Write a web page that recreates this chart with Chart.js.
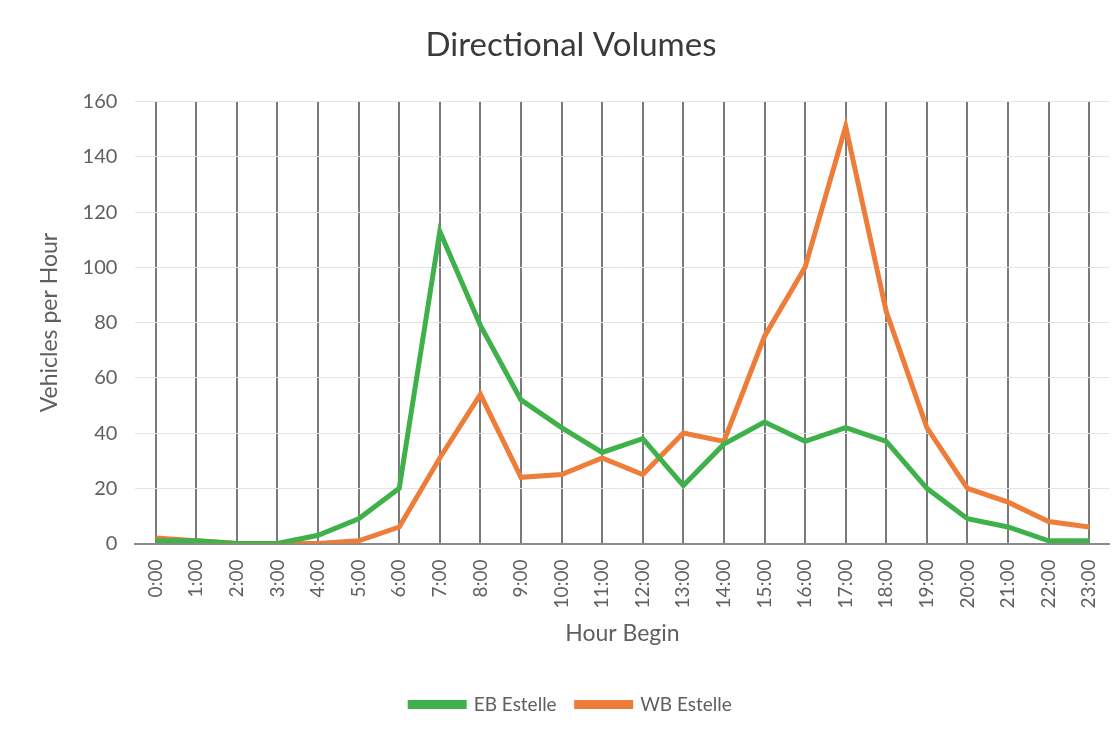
<!DOCTYPE html>
<html>
<head>
<meta charset="utf-8">
<script src="https://cdn.jsdelivr.net/npm/chart.js@4.4.1/dist/chart.umd.min.js"></script>
<style>
  html, body { margin: 0; padding: 0; background: #fff; overflow: hidden; }
  #wrap { width: 1120px; height: 738px; overflow: hidden; }
</style>
</head>
<body>
<div id="wrap"><canvas id="volChart" width="1128" height="738"></canvas></div>
<script>
const hours = [
    '0:00', '1:00', '2:00', '3:00', '4:00', '5:00', '6:00', '7:00',
    '8:00', '9:00', '10:00', '11:00', '12:00', '13:00', '14:00', '15:00',
    '16:00', '17:00', '18:00', '19:00', '20:00', '21:00', '22:00', '23:00'
];
const ebEstelle = [1, 1, 0, 0, 3, 9, 20, 113, 79, 52, 42, 33, 38, 21, 36, 44, 37, 42, 37, 20, 9, 6, 1, 1];
const wbEstelle = [2, 1, 0, 0, 0, 1, 6, 31, 54, 24, 25, 31, 25, 40, 37, 75, 100, 151, 84, 42, 20, 15, 8, 6];
const yTicks = [0, 20, 40, 60, 80, 100, 120, 140, 160];

const green = '#3fb14b';
const orange = '#ee7d3a';
const txt = '#5f5f5f';

const ctx = document.getElementById('volChart').getContext('2d');
new Chart(ctx, {
    type: 'line',
    data: {
        labels: hours,
        datasets: [
            {
                label: 'EB Estelle',
                data: ebEstelle,
                borderColor: green,
                backgroundColor: green,
                borderWidth: 5,
                pointRadius: 0,
                tension: 0
            },
            {
                label: 'WB Estelle',
                data: wbEstelle,
                borderColor: orange,
                backgroundColor: orange,
                borderWidth: 5,
                pointRadius: 0,
                tension: 0
            }
        ]
    },
    options: {
        responsive: false,
        animation: false,
        layout: {
            padding: { left: 14, right: 0, top: 10, bottom: 14 }
        },
        plugins: {
            title: {
                display: true,
                text: 'Directional Volumes',
                color: '#3a3a3a',
                font: { family: 'Lato', size: 33, weight: 'normal' },
                padding: { top: 16, bottom: 36 }
            },
            legend: {
                position: 'bottom',
                labels: {
                    color: txt,
                    font: { family: 'Lato', size: 19 },
                    boxWidth: 54,
                    boxHeight: 4,
                    padding: 20
                }
            },
            tooltip: { enabled: false }
        },
        scales: {
            x: {
                offset: true,
                grid: {
                    offset: false,
                    color: '#7a7a7a',
                    lineWidth: 2,
                    drawTicks: false
                },
                border: { color: '#8a8a8a', width: 2 },
                ticks: {
                    color: txt,
                    font: { family: 'Lato', size: 19 },
                    minRotation: 90,
                    maxRotation: 90,
                    padding: 16
                },
                title: {
                    display: true,
                    text: 'Hour Begin',
                    color: txt,
                    font: { family: 'Lato', size: 23 },
                    padding: { top: -5, bottom: 28 }
                }
            },
            y: {
                min: 0,
                max: 160,
                afterBuildTicks: (axis) => {
                    axis.ticks = yTicks.map(v => ({ value: v }));
                },
                grid: {
                    color: '#e4e4e4',
                    lineWidth: 1,
                    drawTicks: false
                },
                border: { display: false },
                ticks: {
                    color: txt,
                    font: { family: 'Lato', size: 20 },
                    padding: 18
                },
                title: {
                    display: true,
                    text: 'Vehicles per Hour',
                    color: txt,
                    font: { family: 'Lato', size: 23 },
                    padding: { top: 22, bottom: 1 }
                }
            }
        }
    }
});
</script>
</body>
</html>
